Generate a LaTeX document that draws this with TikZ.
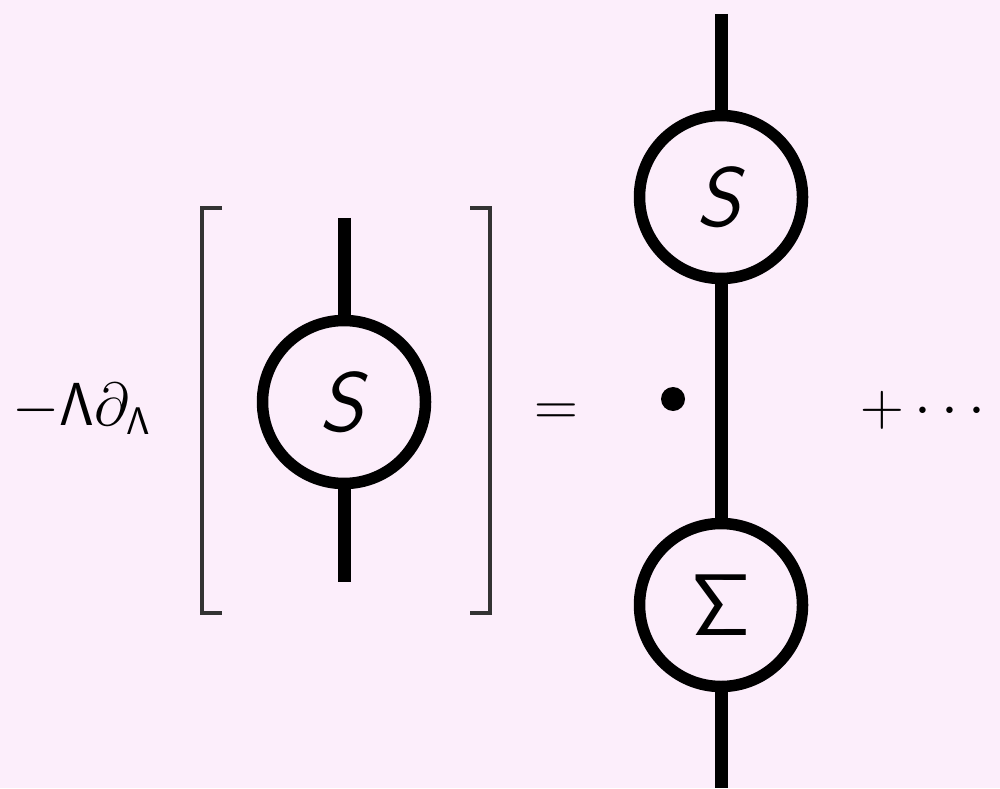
\documentclass[tikz,border=0pt]{standalone}
\usepackage{amsmath, amssymb}
\usepackage{tikz}
\usetikzlibrary{positioning, calc}

\definecolor{bgpink}{RGB}{252,238,251}
\DeclareMathSizes{19}{19}{11}{8}

\begin{document}
\begin{tikzpicture}[
    font=\fontsize{19}{22}\selectfont,
    blob/.style={circle, draw, line width=0.115cm, fill=bgpink, minimum size=1.63cm, inner sep=0pt,
                 font=\fontsize{24}{27}\selectfont},
    leg/.style={line width=0.13cm},
    brak/.style={line width=0.04cm, draw=black!80},
    dotnode/.style={circle, fill=black, minimum size=0.24cm, inner sep=0pt},
    word/.style={anchor=base west, inner sep=0pt}
]
    \fill[bgpink] (0,0) rectangle (10,7.88);
    \useasboundingbox (0,0) rectangle (10,7.88);

    % left hand side
    \node[word] (lhs) at (0.12, 3.63) {$-\mathsf{\Lambda}\partial_{\mathsf{\Lambda}}$};
    \coordinate (lt) at (3.44, 5.70);
    \coordinate (lb) at (3.44, 2.06);
    \draw[leg] (lt) -- (3.44, 3.86);
    \draw[leg] (3.44, 3.86) -- (lb);
    \node[blob] (sL) at (3.44, 3.86) {\textsf{\textit{S}}};
    \draw[brak] (2.22, 5.80) -- (2.02, 5.80) -- (2.02, 1.75) -- (2.22, 1.75);
    \draw[brak] (4.70, 5.80) -- (4.90, 5.80) -- (4.90, 1.75) -- (4.70, 1.75);

    \node[anchor=base, inner sep=0pt] (eq) at (5.56, 3.63) {$=$};

    % right hand side
    \coordinate (rt) at (7.21, 7.74);
    \coordinate (rb) at (7.21, 0);
    \draw[leg] (rt) -- (rb);
    \node[blob] (sR) at (7.21, 5.91) {\textsf{\textit{S}}};
    \node[blob] (sig) at (7.21, 1.83) {$\mathsf{\Sigma}$};
    \node[dotnode] (d) at (6.73, 3.89) {};

    \node[word] (more) at (8.60, 3.63) {$+\cdots$};
\end{tikzpicture}
\end{document}
